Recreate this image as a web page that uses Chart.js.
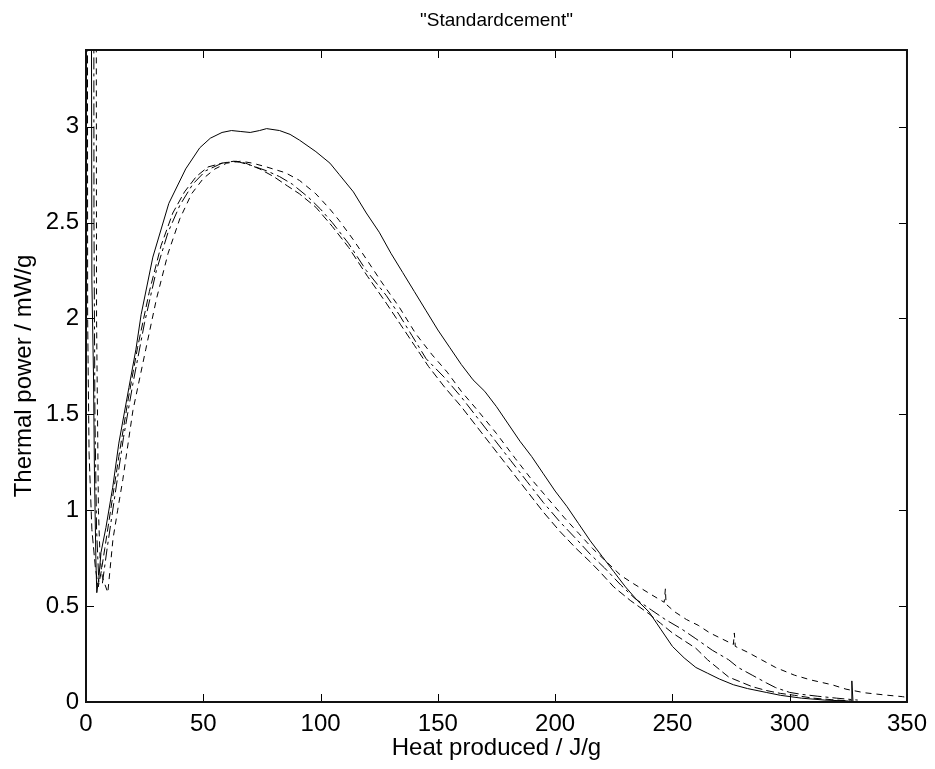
<!DOCTYPE html>
<html>
<head>
<meta charset="utf-8">
<title>Standardcement</title>
<script src="https://cdn.jsdelivr.net/npm/chart.js@4.4.1/dist/chart.umd.min.js"></script>
<style>
  html, body { margin: 0; padding: 0; background: #fff; }
  #wrap { width: 935px; height: 769px; }
</style>
</head>
<body>
<div id="wrap"><canvas id="calChart"></canvas></div>
<script>
// Heat produced (J/g) vs thermal power (mW/g), four samples of standard cement

// solid line
const heatA = [2, 2.5, 3.2, 3.6, 4.2, 4.6, 5.5, 6.4, 8.5, 11.4, 14, 18.3, 21.3, 23.5, 28.5, 35.3, 42.5, 48.5, 53, 58, 62, 66, 70, 74, 77, 82.5, 87, 91, 98, 104, 108, 114, 119.5, 125, 130, 135, 140, 145, 150, 155, 160, 165, 170, 175, 180, 185, 190, 195, 200, 205, 210, 215, 220, 225, 230, 235, 240, 245, 250, 255, 260, 265, 270, 276, 282, 290, 296, 305, 315, 325, 326.5, 326.5, 327];
const powerA = [6, 2.2, 1.7, 1.2, 0.75, 0.57, 0.65, 0.78, 0.91, 1.12, 1.35, 1.64, 1.84, 2.02, 2.32, 2.60, 2.78, 2.89, 2.94, 2.97, 2.98, 2.975, 2.97, 2.98, 2.99, 2.98, 2.96, 2.93, 2.87, 2.81, 2.75, 2.66, 2.55, 2.45, 2.34, 2.24, 2.14, 2.04, 1.94, 1.85, 1.76, 1.68, 1.62, 1.54, 1.45, 1.36, 1.28, 1.19, 1.10, 1.02, 0.93, 0.84, 0.76, 0.68, 0.60, 0.53, 0.47, 0.38, 0.29, 0.23, 0.18, 0.15, 0.12, 0.09, 0.07, 0.05, 0.035, 0.02, 0.01, 0.005, 0.005, 0.11, 0.0];

// dashed line (highest tail)
const heatB = [4.2, 4.5, 5.3, 6, 7, 9.3, 11.5, 13.5, 15.7, 20, 25.5, 30, 35, 40, 45, 50, 55, 60, 66, 71, 77, 85, 91, 98, 104, 108, 114, 119.5, 126, 133.5, 140.6, 147.6, 154, 160, 167, 175, 183, 190, 197, 204, 210, 216, 222, 228, 233, 241, 246.5, 247, 247.3, 251, 256, 261, 266, 271, 276, 276.4, 276.8, 282, 288, 294, 302, 309, 318, 324, 332, 341, 348, 352];
const powerB = [6, 2.0, 1.0, 0.75, 0.65, 0.57, 0.85, 1.0, 1.16, 1.52, 1.84, 2.10, 2.34, 2.52, 2.65, 2.73, 2.78, 2.81, 2.82, 2.81, 2.79, 2.76, 2.72, 2.65, 2.57, 2.51, 2.41, 2.31, 2.19, 2.06, 1.92, 1.81, 1.72, 1.62, 1.52, 1.40, 1.27, 1.16, 1.06, 0.96, 0.88, 0.80, 0.73, 0.66, 0.62, 0.56, 0.52, 0.59, 0.51, 0.47, 0.43, 0.40, 0.36, 0.33, 0.30, 0.36, 0.29, 0.26, 0.22, 0.18, 0.14, 0.115, 0.09, 0.067, 0.048, 0.036, 0.028, 0.02];

// dash-dot line
const heatC = [3.2, 3.4, 3.8, 4.5, 5.5, 7, 9, 12, 16, 20, 25, 30, 35, 40, 45.5, 51, 58, 64, 70, 77, 82.5, 88, 95, 100, 105, 112, 119.5, 128, 133.5, 139, 145, 153, 160, 167, 174, 181, 188, 195, 202, 209, 215, 221, 228, 234, 241, 247, 254, 260, 267, 274, 278, 284, 290, 294, 300, 305, 312, 320, 329];
const powerC = [6, 2.5, 1.5, 0.9, 0.62, 0.62, 0.80, 1.05, 1.38, 1.66, 1.98, 2.25, 2.45, 2.59, 2.70, 2.77, 2.81, 2.82, 2.80, 2.77, 2.74, 2.70, 2.63, 2.57, 2.50, 2.39, 2.25, 2.12, 2.02, 1.91, 1.79, 1.69, 1.59, 1.48, 1.37, 1.26, 1.15, 1.04, 0.94, 0.85, 0.77, 0.70, 0.61, 0.54, 0.48, 0.43, 0.38, 0.33, 0.27, 0.22, 0.18, 0.14, 0.10, 0.075, 0.05, 0.04, 0.03, 0.02, 0.01];

// dotted line
const heatD = [0.5, 0.7, 1.3, 2.5, 4, 5.2, 6.5, 8, 10.5, 14, 18, 22, 27, 32, 37, 42, 47, 52, 58, 63, 68, 74, 80, 86, 91, 98, 105, 112, 120, 128, 134, 140, 146, 153, 160, 167, 174, 181, 188, 195, 202, 209, 215, 219, 225, 232, 240, 245, 250, 255, 260, 265, 270, 274, 278, 284, 290, 296, 302, 310, 318, 326];
const powerD = [6, 2.0, 1.3, 0.9, 0.7, 0.6, 0.68, 0.8, 1.0, 1.28, 1.58, 1.85, 2.14, 2.38, 2.55, 2.66, 2.74, 2.79, 2.81, 2.82, 2.81, 2.78, 2.74, 2.69, 2.65, 2.58, 2.48, 2.37, 2.22, 2.08, 1.97, 1.86, 1.75, 1.64, 1.54, 1.43, 1.32, 1.21, 1.10, 0.99, 0.89, 0.80, 0.73, 0.68, 0.60, 0.53, 0.46, 0.41, 0.36, 0.32, 0.28, 0.22, 0.17, 0.13, 0.11, 0.08, 0.06, 0.045, 0.035, 0.02, 0.012, 0.005];

const xTickLabels = ['0', '50', '100', '150', '200', '250', '300', '350'];
const yTickLabels = ['0', '0.5', '1', '1.5', '2', '2.5', '3'];

const FONT = "'Liberation Sans', Arial, Helvetica, sans-serif";

function pairs(xs, ys) {
    return xs.map((x, i) => ({ x: x, y: ys[i] }));
}

// MATLAB style box with ticks pointing inwards on all four sides
const boxPlugin = {
    id: 'matlabBox',
    afterDatasetsDraw(chart) {
        const { ctx, chartArea: a, scales } = chart;
        const tl = 8;
        ctx.save();
        ctx.strokeStyle = '#000';
        ctx.lineWidth = 1;
        ctx.beginPath();
        scales.x.ticks.forEach(t => {
            const px = Math.round(scales.x.getPixelForValue(t.value)) + 0.5;
            ctx.moveTo(px, a.bottom); ctx.lineTo(px, a.bottom - tl);
            ctx.moveTo(px, a.top); ctx.lineTo(px, a.top + tl);
        });
        scales.y.ticks.forEach(t => {
            const py = Math.round(scales.y.getPixelForValue(t.value)) + 0.5;
            ctx.moveTo(a.left, py); ctx.lineTo(a.left + tl, py);
            ctx.moveTo(a.right, py); ctx.lineTo(a.right - tl, py);
        });
        ctx.stroke();
        ctx.lineWidth = 2;
        ctx.strokeStyle = '#111';
        ctx.strokeRect(a.left, a.top, a.right - a.left, a.bottom - a.top);
        ctx.restore();
    }
};

document.addEventListener('DOMContentLoaded', () => {
    if (typeof Chart === 'undefined') {
        console.error("Chart.js not loaded");
        return;
    }

    Chart.defaults.font.family = FONT;
    Chart.defaults.color = '#000';

    const lineStyle = (dash) => ({
        showLine: true,
        borderColor: '#000',
        borderWidth: 1,
        borderDash: dash,
        pointRadius: 0,
        pointHoverRadius: 0,
        fill: false,
        tension: 0
    });

    const ctx = document.getElementById('calChart').getContext('2d');

    new Chart(ctx, {
        type: 'scatter',
        data: {
            datasets: [
                Object.assign({ label: 'A', data: pairs(heatA, powerA) }, lineStyle([])),
                Object.assign({ label: 'B', data: pairs(heatB, powerB) }, lineStyle([6, 5])),
                Object.assign({ label: 'C', data: pairs(heatC, powerC) }, lineStyle([12, 4, 3, 4])),
                Object.assign({ label: 'D', data: pairs(heatD, powerD) }, lineStyle([8, 4]))
            ]
        },
        options: {
            responsive: true,
            maintainAspectRatio: false,
            animation: false,
            layout: { padding: { left: 0, right: 26, top: 0, bottom: 0 } },
            plugins: {
                legend: { display: false },
                tooltip: { enabled: false },
                title: {
                    display: true,
                    text: '"Standardcement"',
                    fullSize: false,
                    font: { size: 19, weight: 'normal' },
                    color: '#000',
                    padding: { top: 9, bottom: 18.2 }
                }
            },
            scales: {
                x: {
                    type: 'linear',
                    min: 0,
                    max: 350,
                    grid: { display: false, drawTicks: false },
                    border: { display: false },
                    ticks: {
                        stepSize: 50,
                        padding: 8,
                        maxRotation: 0,
                        font: { size: 24 },
                        callback: (v, i) => xTickLabels[i]
                    },
                    title: {
                        display: true,
                        text: 'Heat produced / J/g',
                        font: { size: 24 },
                        padding: { top: 0, bottom: 6 }
                    },
                    afterFit: (s) => { s.height = 67; }
                },
                y: {
                    min: 0,
                    max: 3.4,
                    grid: { display: false, drawTicks: false },
                    border: { display: false },
                    ticks: {
                        stepSize: 0.5,
                        includeBounds: false,
                        padding: 7,
                        font: { size: 24 },
                        callback: (v, i) => yTickLabels[i]
                    },
                    title: {
                        display: true,
                        text: 'Thermal power / mW/g',
                        font: { size: 24 },
                        padding: { top: 10, bottom: 0 }
                    },
                    afterFit: (s) => { s.width = 86; }
                }
            }
        },
        plugins: [boxPlugin]
    });
});
</script>
</body>
</html>
